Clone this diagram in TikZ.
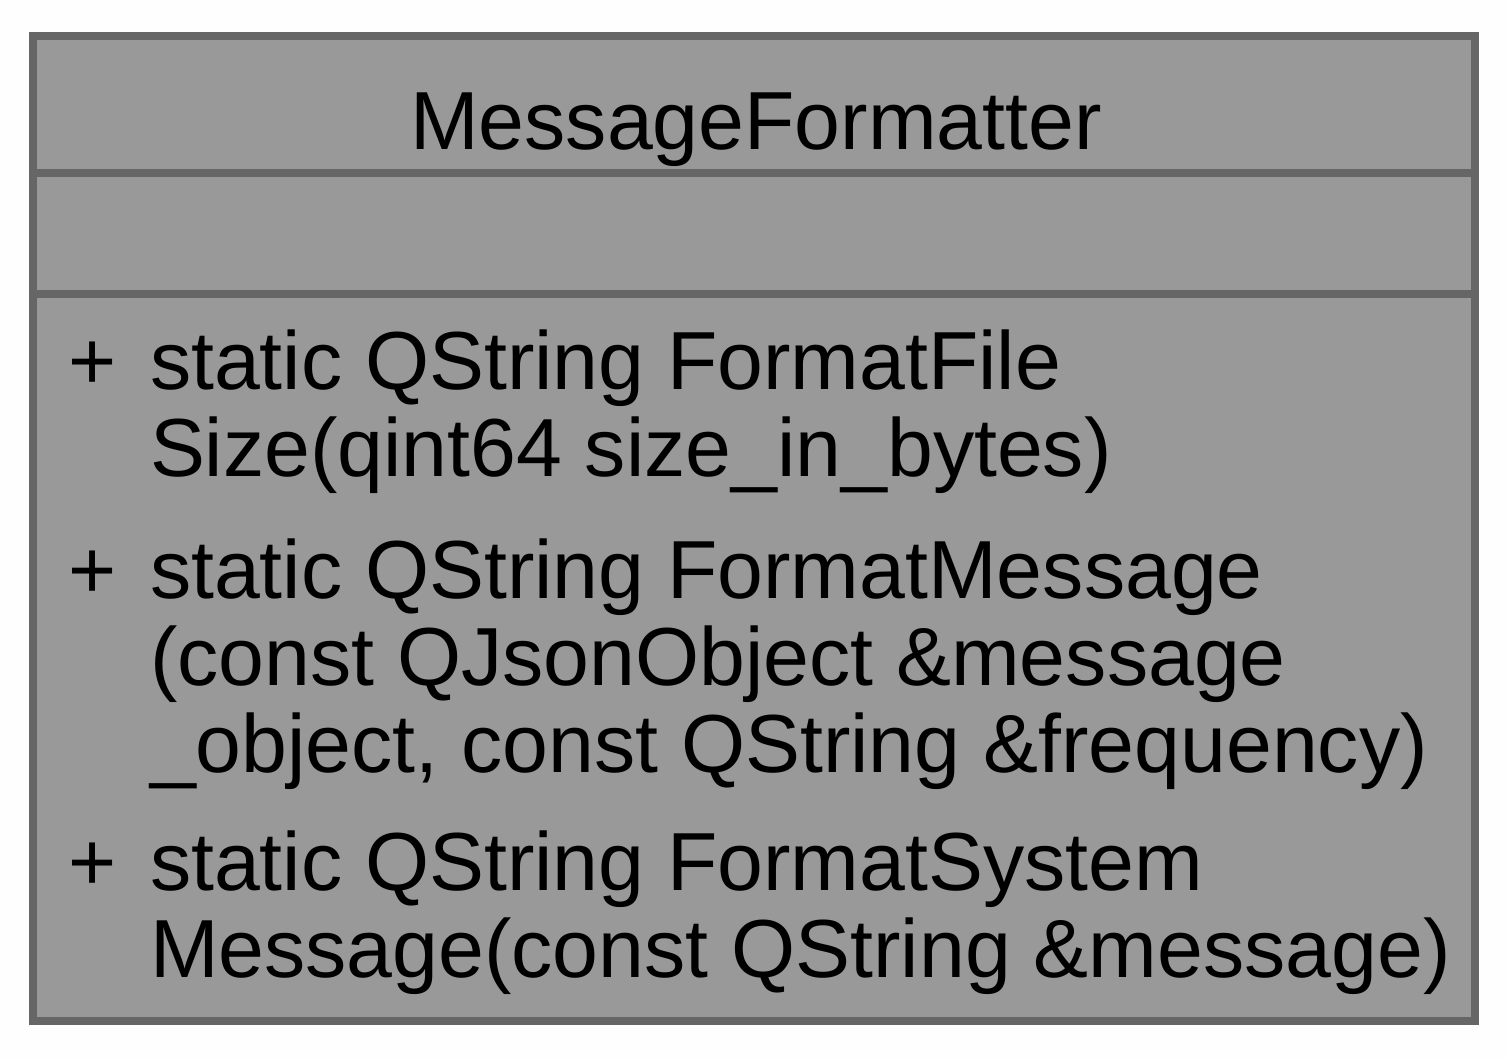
\documentclass[tikz,border=0pt]{standalone}
\usepackage{fontspec}
\setmainfont{Liberation Sans}
\definecolor{boxfill}{HTML}{999999}
\definecolor{boxline}{HTML}{666666}
\definecolor{pagebg}{HTML}{FEFEFE}
\begin{document}
\begin{tikzpicture}[x=0.5pt,y=-0.5pt,
  txt/.style={anchor=base west,inner sep=0pt,outer sep=0pt,font=\fontsize{41.2}{43}\selectfont},
  sep/.style={draw=boxline,line width=4pt}]
% page background
\fill[pagebg] (0,0) rectangle (1508,1058);
\useasboundingbox (0,0) rectangle (1508,1058);
% class box with its three compartments
\draw[fill=boxfill,draw=boxline,line width=4pt] (33,36) rectangle (1475,1021);
\draw[sep] (33,173) -- (1475,173);
\draw[sep] (33,294) -- (1475,294);
% class name
\node[txt,anchor=base] (title) at (756,150) {MessageFormatter};
% operations
\node[txt] (p1) at (68,390) {+};
\node[txt] (m1a) at (150,390) {static QString FormatFile};
\node[txt] (m1b) at (150,476) {Size(qint64 size\_in\_bytes)};
\node[txt] (p2) at (68,598) {+};
\node[txt] (m2a) at (150,598) {static QString FormatMessage};
\node[txt] (m2b) at (150,685) {(const QJsonObject \&message};
\node[txt] (m2c) at (150,772) {\_object, const QString \&frequency)};
\node[txt] (p3) at (68,890) {+};
\node[txt] (m3a) at (150,890) {static QString FormatSystem};
\node[txt] (m3b) at (150,977) {Message(const QString \&message)};
\end{tikzpicture}
\end{document}
